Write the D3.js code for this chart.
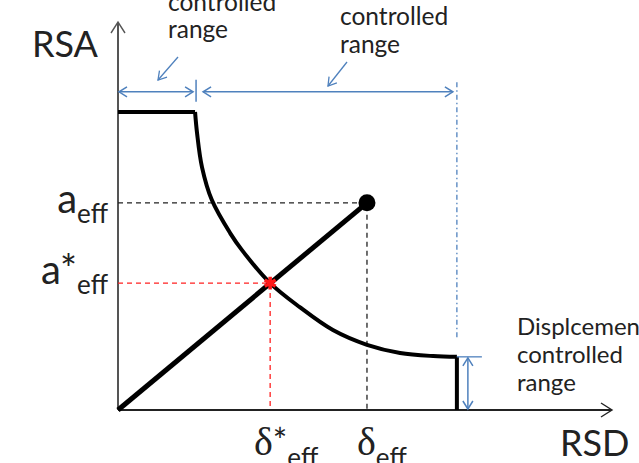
<!DOCTYPE html>
<html>
<head>
<meta charset="utf-8">
<script src="https://cdn.jsdelivr.net/npm/d3@7"></script>
<style>
  html, body { margin: 0; padding: 0; background: #fff; }
  svg { display: block; }
  text { font-family: Lato, "Open Sans", sans-serif; fill: #222; }
</style>
</head>
<body>
<script>
// Capacity curve in RSD–RSA space (relative units, origin at the axes crossing)
const plateauRSA = 76.8;     // constant-acceleration plateau
const cornerRSD = 15.6;      // end of acceleration-controlled range
const dispRSD = 68.6;        // start of displacement-controlled range
const curveRSD = [15.6, 16.0, 17.0, 19.0, 22.7, 25.1, 30.8, 36.8, 43.5, 50.4, 57.1, 63.8, 68.6];
const curveRSA = [76.8, 71.4, 62.6, 54.1, 45.6, 41.2, 32.7, 26.5, 20.6, 16.8, 14.7, 13.9, 13.7];

// Elastic demand point and the performance point on the curve
const demandRSD = [50.4];
const demandRSA = [53.4];
const perfRSD = [30.8];
const perfRSA = [32.7];

// Annotation band heights
const rangeArrowRSA = 82;
const dashDotTopRSA = 84.5;
const dashDotBottomRSA = 18.6;

const W = 639, H = 463;
const x = d3.scaleLinear().domain([0, 100]).range([118, 612]);
const y = d3.scaleLinear().domain([0, 100]).range([410, 22]);

const svg = d3.select("body").append("svg").attr("width", W).attr("height", H);
const blue = "#4f81bd";

function chevron(g, tx, ty, angleDeg, len, half, color, width) {
  const a = angleDeg * Math.PI / 180;
  const bx = tx - Math.cos(a) * len, by = ty - Math.sin(a) * len;
  const px = -Math.sin(a) * half, py = Math.cos(a) * half;
  g.append("path")
    .attr("d", `M${bx + px},${by + py}L${tx},${ty}L${bx - px},${by - py}`)
    .attr("fill", "none").attr("stroke", color).attr("stroke-width", width)
    .attr("stroke-linejoin", "miter");
}

// Axes
const axes = svg.append("g");
axes.append("line").attr("x1", x(0)).attr("y1", y(0)).attr("x2", x(0)).attr("y2", y(100) + 1)
  .attr("stroke", "#555").attr("stroke-width", 2);
chevron(axes, x(0), y(100), -90, 11, 7, "#555", 1.4);
axes.append("line").attr("x1", x(0)).attr("y1", y(0)).attr("x2", x(100) - 1).attr("y2", y(0))
  .attr("stroke", "#222").attr("stroke-width", 2);
chevron(axes, x(100), y(0), 0, 11, 7, "#222", 1.4);

// Guide lines to the demand point (black) and the performance point (red)
const guides = svg.append("g").attr("fill", "none").attr("stroke-width", 1.3).attr("stroke-dasharray", "5,4");
guides.append("path").attr("stroke", "#222")
  .attr("d", `M${x(0)},${y(demandRSA[0])}H${x(demandRSD[0])}V${y(0)}`);
guides.append("path").attr("stroke", "#ff2020")
  .attr("d", `M${x(0)},${y(perfRSA[0])}H${x(perfRSD[0])}V${y(0)}`);

// Capacity curve: plateau, descending branch, drop at displacement limit
const line = d3.line().x(d => x(d[0])).y(d => y(d[1]));
const curvePts = curveRSD.map((d, i) => [d, curveRSA[i]]);
svg.append("path")
  .attr("d", line([[0, plateauRSA], [cornerRSD, plateauRSA]]))
  .attr("fill", "none").attr("stroke", "#000").attr("stroke-width", 4);
svg.append("path")
  .attr("d", line.curve(d3.curveCatmullRom.alpha(0.5))(curvePts))
  .attr("fill", "none").attr("stroke", "#000").attr("stroke-width", 4);
line.curve(d3.curveLinear);
svg.append("path")
  .attr("d", line([[dispRSD, curveRSA[curveRSA.length - 1]], [dispRSD, 0]]))
  .attr("fill", "none").attr("stroke", "#000").attr("stroke-width", 4);

// Demand line from origin to the elastic demand point
svg.append("path")
  .attr("d", line([[0, 0], [demandRSD[0], demandRSA[0]]]))
  .attr("fill", "none").attr("stroke", "#000").attr("stroke-width", 5);
svg.append("circle").attr("cx", x(demandRSD[0])).attr("cy", y(demandRSA[0])).attr("r", 8.5).attr("fill", "#000");

// Performance point marker
svg.append("path")
  .attr("transform", `translate(${x(perfRSD[0])},${y(perfRSA[0])})`)
  .attr("d", d3.symbol(d3.symbolAsterisk, 110)())
  .attr("fill", "none").attr("stroke", "#ff1a1a").attr("stroke-width", 3.5);

// Range annotations
const ann = svg.append("g");
const ay = y(rangeArrowRSA);
ann.append("line").attr("x1", x(0) + 1).attr("x2", x(cornerRSD) - 2).attr("y1", ay).attr("y2", ay)
  .attr("stroke", blue).attr("stroke-width", 1.5);
chevron(ann, x(0) + 1, ay, 180, 8, 5, blue, 1.5);
chevron(ann, x(cornerRSD) - 2, ay, 0, 8, 5, blue, 1.5);
ann.append("line").attr("x1", x(cornerRSD) + 1).attr("x2", x(cornerRSD) + 1).attr("y1", ay - 12).attr("y2", ay + 10)
  .attr("stroke", blue).attr("stroke-width", 1.5);
ann.append("line").attr("x1", x(cornerRSD) + 8).attr("x2", x(dispRSD) - 4).attr("y1", ay).attr("y2", ay)
  .attr("stroke", blue).attr("stroke-width", 1.5);
chevron(ann, x(cornerRSD) + 8, ay, 180, 8, 5, blue, 1.5);
chevron(ann, x(dispRSD) - 4, ay, 0, 8, 5, blue, 1.5);
ann.append("line").attr("x1", x(dispRSD)).attr("x2", x(dispRSD))
  .attr("y1", y(dashDotTopRSA)).attr("y2", y(dashDotBottomRSA))
  .attr("stroke", blue).attr("stroke-width", 1.3).attr("stroke-dasharray", "5,3,1.5,3");

const vx = x(dispRSD) + 11;
const vTop = y(curveRSA[curveRSA.length - 1]);
ann.append("line").attr("x1", x(dispRSD)).attr("x2", x(dispRSD) + 25).attr("y1", vTop).attr("y2", vTop)
  .attr("stroke", blue).attr("stroke-width", 1.3);
ann.append("line").attr("x1", vx).attr("x2", vx).attr("y1", vTop + 1).attr("y2", y(0) - 1)
  .attr("stroke", blue).attr("stroke-width", 1.5);
chevron(ann, vx, vTop + 1, -90, 8, 5, blue, 1.5);
chevron(ann, vx, y(0) - 1, 90, 8, 5, blue, 1.5);

// Pointer arrows from the range labels
function pointer(x1, y1, x2, y2) {
  ann.append("line").attr("x1", x1).attr("y1", y1).attr("x2", x2).attr("y2", y2)
    .attr("stroke", blue).attr("stroke-width", 1.3);
  const ang = Math.atan2(y2 - y1, x2 - x1) * 180 / Math.PI;
  chevron(ann, x2, y2, ang, 8, 5, blue, 1.3);
}
pointer(178, 57, 158, 80);
pointer(347, 62, 328, 86);

// Text labels
svg.append("text").attr("x", 32).attr("y", 57).attr("font-size", 36).text("RSA");
svg.append("text").attr("x", 560).attr("y", 456).attr("font-size", 36).text("RSD");

function multiline(lines, x0, y0, dy, size) {
  const t = svg.append("text").attr("font-size", size);
  lines.forEach((s, i) => t.append("tspan").attr("x", x0).attr("y", y0 + i * dy).text(s));
}
multiline(["controlled", "range"], 168, 11, 27, 24.5);
multiline(["controlled", "range"], 340, 25, 28, 24.5);
multiline(["Displcemen", "controlled", "range"], 517, 335, 28, 24);

// Axis value labels
const aEff = svg.append("text").attr("text-anchor", "end").attr("x", 108).attr("y", y(demandRSA[0]) + 10);
aEff.append("tspan").attr("font-size", 40).text("a");
aEff.append("tspan").attr("font-size", 26).attr("dy", 10).text("eff");

const aStar = svg.append("text").attr("text-anchor", "end").attr("x", 108).attr("y", y(perfRSA[0]) + 1);
aStar.append("tspan").attr("font-size", 40).text("a*");
aStar.append("tspan").attr("font-size", 26).attr("dy", 10).text("eff");

const dStar = svg.append("text").attr("x", 254).attr("y", 455);
dStar.append("tspan").attr("font-size", 40).attr("font-family", "'Liberation Serif', serif").text("δ");
dStar.append("tspan").attr("font-size", 34).attr("dy", -2).text("*");
dStar.append("tspan").attr("font-size", 26).attr("dy", 14).text("eff");

const dEff = svg.append("text").attr("x", 357).attr("y", 455);
dEff.append("tspan").attr("font-size", 40).attr("font-family", "'Liberation Serif', serif").text("δ");
dEff.append("tspan").attr("font-size", 26).attr("dy", 12).text("eff");
</script>
</body>
</html>
